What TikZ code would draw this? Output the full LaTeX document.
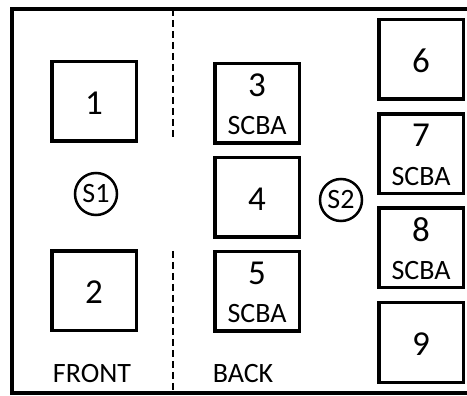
\documentclass[tikz,border=0pt]{standalone}
\usepackage{fontspec}
\setmainfont{Carlito}
\begin{document}
\begin{tikzpicture}[x=1pt,y=-1pt,
  bay/.style={draw, line width=3.5pt, minimum width=84.5pt, minimum height=79.5pt, inner sep=0pt},
  num/.style={font=\fontsize{35}{35}\selectfont, inner sep=0pt},
  tag/.style={font=\fontsize{28}{28}\selectfont, inner sep=0pt},
  seat/.style={draw, circle, line width=2.5pt, minimum size=42pt, inner sep=0pt, font=\fontsize{28}{28}\selectfont},
  divider/.style={line width=2.5pt, dash pattern=on 7pt off 4pt}]
\useasboundingbox (0,0) rectangle (467,396);
\draw[line width=3.5pt] (467,9) -- (12,9) -- (12,393) -- (467,393);
% dividers
\coordinate (d1) at (173,9);
\coordinate (d2) at (173,139);
\coordinate (d3) at (173,251);
\coordinate (d4) at (173,393);
\draw[divider] (d1) -- (d2);
\draw[divider] (d3) -- (d4);
% front boxes
\node[bay] (b1) at (94,101.5) {};
\node[num] at (94,103.5) {1};
\node[bay] (b2) at (94,291) {};
\node[num] at (94,292) {2};
% back boxes
\node[bay] (b3) at (257,103.5) {};
\node[num] at (257,85) {3};
\node[tag] at (257,126) {SCBA};
\node[bay] (b4) at (257,197.5) {};
\node[num] at (257,199) {4};
\node[bay] (b5) at (257,291.5) {};
\node[num] at (257,273) {5};
\node[tag] at (257,314) {SCBA};
% right boxes
\node[bay] (b6) at (421,59.5) {};
\node[num] at (421,61) {6};
\node[bay] (b7) at (421,154) {};
\node[num] at (421,135.5) {7};
\node[tag] at (421,176.5) {SCBA};
\node[bay] (b8) at (421,248) {};
\node[num] at (421,229.5) {8};
\node[tag] at (421,270.5) {SCBA};
\node[bay] (b9) at (421,342.5) {};
\node[num] at (421,344) {9};
% seats
\node[seat] (s1) at (96,194) {S1};
\node[seat] (s2) at (341,200) {S2};
% labels
\node[tag, anchor=base] (front) at (92,382) {FRONT};
\node[tag, anchor=base] (back) at (243,382) {BACK};
\end{tikzpicture}
\end{document}
